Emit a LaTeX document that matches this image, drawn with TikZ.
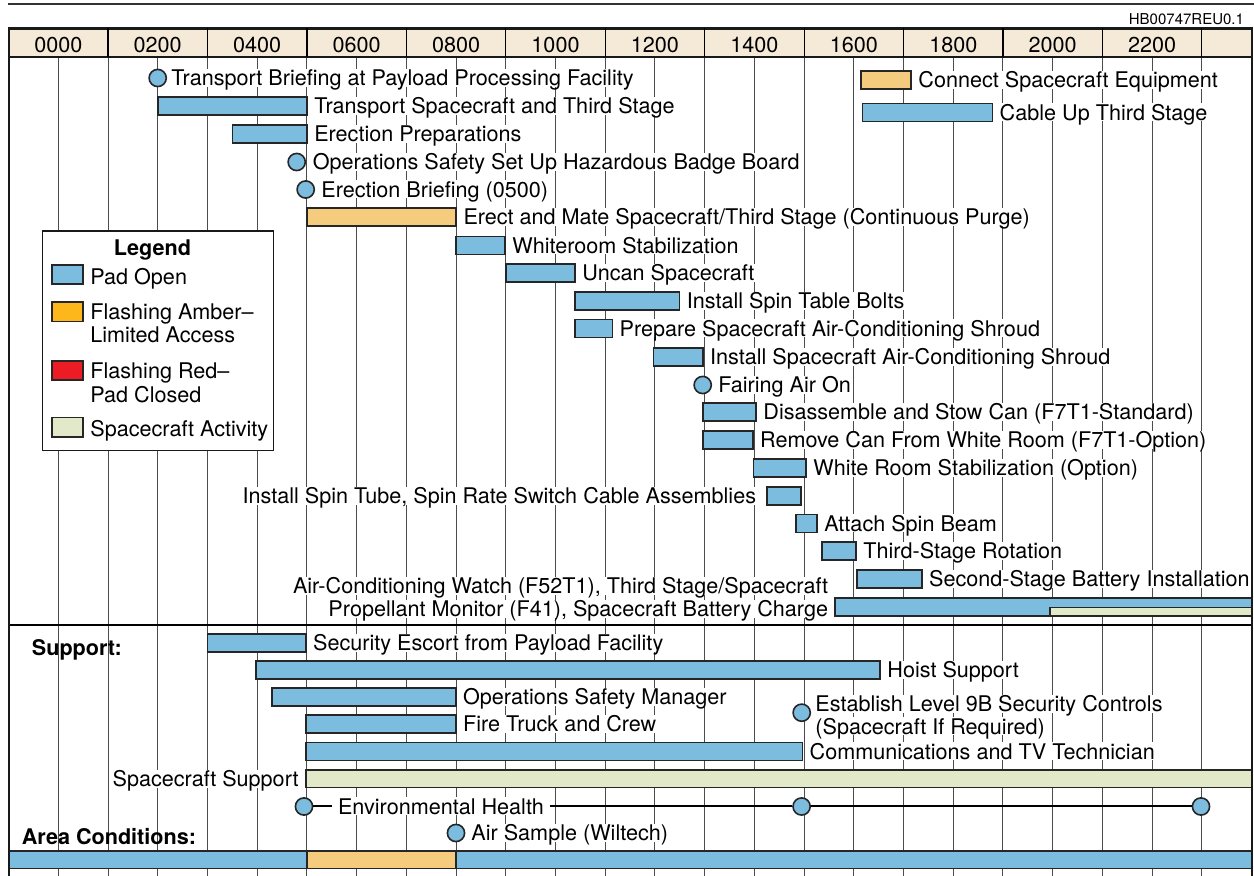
\documentclass[tikz,border=0pt]{standalone}
\usepackage{fontspec}
\setmainfont{TeX Gyre Heros}
\usetikzlibrary{positioning}

\definecolor{padblue}{HTML}{7BBCDF}
\definecolor{amberbar}{HTML}{F5CB7D}
\definecolor{amberkey}{HTML}{FDB71A}
\definecolor{redkey}{HTML}{ED1C24}
\definecolor{scgreen}{HTML}{E2E9C8}
\definecolor{hdrtan}{HTML}{F5EAD8}
\definecolor{inkline}{HTML}{262626}

% bar with its label: style, from, to, y, name, text
\newcommand{\taskbar}[6]{%
  \draw[#1] (#2,#4-9) rectangle (#3,#4+9);
  \node[lbl] (#5) at (#3+6,#4) {#6};}

\begin{document}
\begin{tikzpicture}[
    x=0.5pt, y=-0.5pt,
    every node/.style={font=\fontsize{10.8}{12}\selectfont},
    lbl/.style={anchor=west, fill=white, inner xsep=0.5pt, inner ysep=0.6pt,
                text height=7.8pt, text depth=0pt},
    lblr/.style={lbl, anchor=east},
    headtxt/.style={lbl, fill=none, font=\bfseries\fontsize{10.8}{12}\selectfont},
    padopen/.style={draw=inkline, line width=0.8pt, fill=padblue},
    amberlim/.style={padopen, fill=amberbar},
    scact/.style={padopen, fill=scgreen},
    mstone/.style={circle, draw=inkline, line width=0.8pt, fill=padblue,
                   minimum size=8.6pt, inner sep=0pt},
    gridline/.style={draw=black!70, line width=0.5pt},
    framing/.style={draw=black!90, line width=1.2pt}
]
\useasboundingbox (0,0) rectangle (1254,876);

% hour grid
\foreach \h in {0,...,23}
    \draw[gridline] ({58.3+49.72*\h},57.3) -- ++(0,820);

% pad activities
\node[mstone] (tb) at (157.7,78) {};
\node[lbl] (tbl) at (170,78) {Transport Briefing at Payload Processing Facility};
\taskbar{padopen}{157.7}{306.9}{106}{tst}{Transport Spacecraft and Third Stage}
\taskbar{padopen}{232.3}{306.9}{134}{ep}{Erection Preparations}
\node[mstone] (osb) at (296.7,162) {};
\node[lbl] (osbl) at (311.5,162) {Operations Safety Set Up Hazardous Badge Board};
\node[mstone] (eb) at (305.7,189.5) {};
\node[lbl] (ebl) at (320,189.5) {Erection Briefing (0500)};
\taskbar{amberlim}{306.9}{456.1}{217}{em}{Erect and Mate Spacecraft/Third Stage (Continuous Purge)}
\taskbar{padopen}{456.1}{505}{245.5}{ws}{Whiteroom Stabilization}
\taskbar{padopen}{505.8}{575}{273}{us}{Uncan Spacecraft}
\taskbar{padopen}{575}{679.5}{301}{stb}{Install Spin Table Bolts}
\taskbar{padopen}{575}{612.3}{328.5}{pas}{Prepare Spacecraft Air-Conditioning Shroud}
\taskbar{padopen}{653.3}{702.7}{357}{ias}{Install Spacecraft Air-Conditioning Shroud}
\node[mstone] (fa) at (702.7,385) {};
\node[lbl] (fal) at (717,385) {Fairing Air On};
\taskbar{padopen}{703}{756}{412}{dsc}{Disassemble and Stow Can (F7T1-Standard)}
\taskbar{padopen}{703}{752.7}{440}{rc}{Remove Can From White Room (F7T1-Option)}
\taskbar{padopen}{753.3}{806}{468}{wrs}{White Room Stabilization (Option)}
\draw[padopen] (767,487) rectangle (801,505);
\node[lblr] (ist) at (757.5,496) {Install Spin Tube, Spin Rate Switch Cable Assemblies};
\taskbar{padopen}{796}{817}{523.5}{asb}{Attach Spin Beam}
\taskbar{padopen}{821.7}{856}{551}{tsr}{Third-Stage Rotation}
\taskbar{padopen}{856.7}{921.7}{579}{sbi}{Second-Stage Battery Installation}
\draw[padopen] (835,598) rectangle (1252,616);
\draw[scact] (1050,607.5) rectangle (1252,616);
\node[lblr] (acw1) at (829.5,586) {Air-Conditioning Watch (F52T1), Third Stage/Spacecraft};
\node[lblr] (acw2) at (829.5,609) {Propellant Monitor (F41), Spacecraft Battery Charge};
\taskbar{amberlim}{860.7}{911}{80}{cse}{Connect Spacecraft Equipment}
\taskbar{padopen}{862.3}{992.3}{112.5}{cut}{Cable Up Third Stage}

% support
\draw[line width=0.9pt] (9,625) -- (1252,625);
\node[headtxt] (support) at (30.5,647.5) {Support:};
\taskbar{padopen}{207.3}{305.7}{643}{se}{Security Escort from Payload Facility}
\taskbar{padopen}{256}{880}{670}{hs}{Hoist Support}
\taskbar{padopen}{271.7}{455.7}{697}{osm}{Operations Safety Manager}
\node[mstone] (sec) at (801.7,712.7) {};
\node[lbl] (secl1) at (814,704) {Establish Level 9B Security Controls};
\node[lbl] (secl2) at (814,726.5) {(Spacecraft If Required)};
\taskbar{padopen}{306}{455.7}{724}{ft}{Fire Truck and Crew}
\taskbar{padopen}{306}{802.3}{751.5}{ctv}{Communications and TV Technician}
\draw[scact] (306,770) rectangle (1252,787.5);
\node[lblr] (ssl) at (300,778.7) {Spacecraft Support};
\node[mstone] (eh1) at (304,806.5) {};
\node[mstone] (eh2) at (801.6,806.5) {};
\node[mstone] (eh3) at (1201,806.5) {};
\node[lbl, inner xsep=2.8pt] (ehl) at (332,806.5) {Environmental Health};
\draw[line width=1pt] (eh1) -- (ehl);
\draw[line width=1pt] (ehl) -- (eh2) -- (eh3);

% area conditions
\node[headtxt] (area) at (20.5,836.5) {Area Conditions:};
\node[mstone] (as) at (456,833) {};
\node[lbl] (asl) at (470,833) {Air Sample (Wiltech)};
\draw[padopen] (9,851) rectangle (306.9,868.5);
\draw[amberlim] (306.9,851) rectangle (456.1,868.5);
\draw[padopen] (456.1,851) rectangle (1252,868.5);

% legend
\draw[draw=black!90, line width=0.6pt, fill=white] (42.3,231) rectangle (273.3,450.7);
\node[headtxt, anchor=center] (legend) at (152.5,248) {Legend};
\draw[padopen] (51.7,265) rectangle (82.7,284);
\draw[padopen, fill=amberkey] (51.7,302.3) rectangle (82.7,321.7);
\draw[padopen, fill=redkey] (51.7,361) rectangle (82.7,380);
\draw[scact] (51.7,417.7) rectangle (82.7,437.3);
\node[lbl] (k1) at (89,276.5) {Pad Open};
\node[lbl] (k2a) at (89,311.5) {Flashing Amber--};
\node[lbl] (k2b) at (89,335) {Limited Access};
\node[lbl] (k3a) at (89,370.5) {Flashing Red--};
\node[lbl] (k3b) at (89,395) {Pad Closed};
\node[lbl] (k4) at (89,428.5) {Spacecraft Activity};

% header and frame
\draw[line width=1.1pt, black!80] (8,4.3) -- (1254,4.3);
\node[anchor=east, font=\fontsize{7.5}{9}\selectfont] (figid) at (1251,19.5) {HB00747REU0.1};
\draw[framing, fill=hdrtan] (9,28.5) rectangle (1252,57.3);
\foreach \h in {1,3,...,23}
    \draw[line width=0.6pt] ({58.3+49.72*\h},28.5) -- ++(0,28.8);
\foreach \h/\t in {0/0000,2/0200,4/0400,6/0600,8/0800,10/1000,12/1200,14/1400,16/1600,18/1800,20/2000,22/2200}
    \node (hr\h) at ({58.3+49.72*\h},45) {\t};
\draw[framing] (9,57.3) -- (9,876);
\draw[framing] (1252,57.3) -- (1252,876);
\end{tikzpicture}
\end{document}
